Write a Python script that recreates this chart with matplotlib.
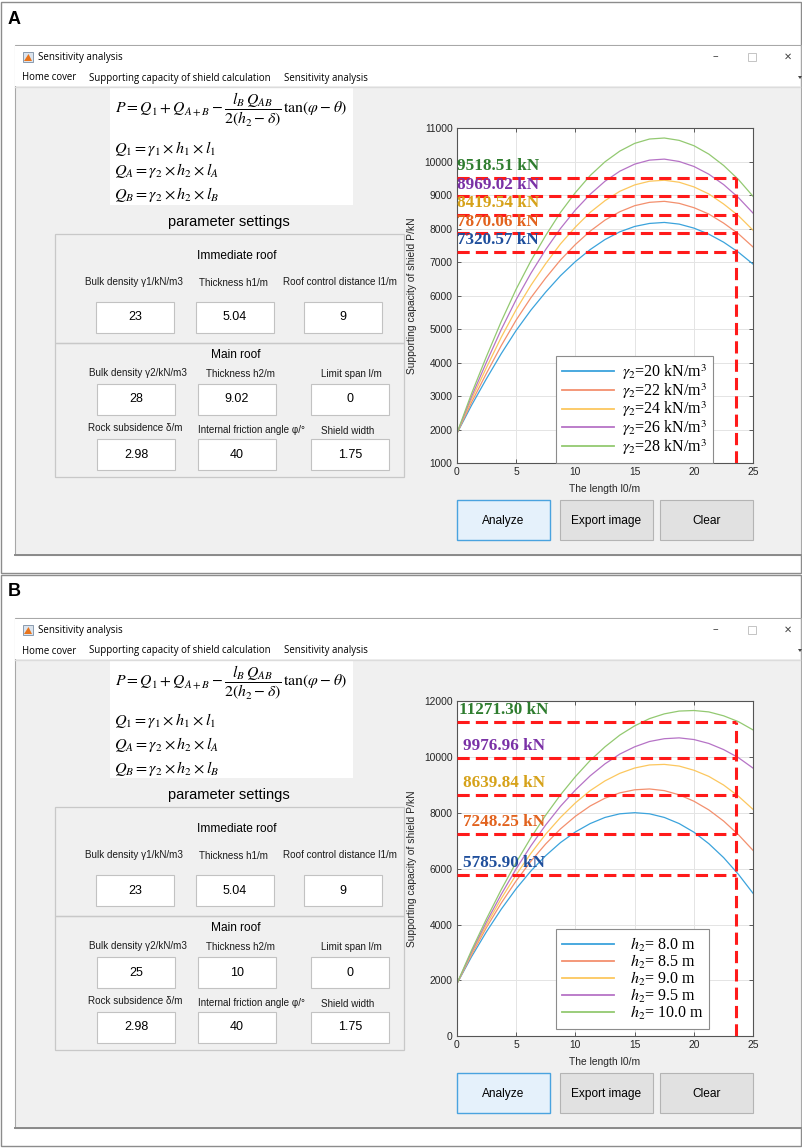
import matplotlib
matplotlib.use('Agg')
import matplotlib.pyplot as plt
from matplotlib.patches import Rectangle, Polygon

plt.rcParams['mathtext.fontset'] = 'stix'

W, H = 803, 1148

# ---- data ----
lengths = [0, 1.25, 2.5, 3.75, 5, 6.25, 7.5, 8.75, 10, 11.25, 12.5,
           13.75, 15, 16.25, 17.5, 18.75, 20, 21.25, 22.5, 23.75, 25]

# A: bulk density of main roof varied
gamma_labels = [r'$\gamma_2$=20 kN/m$^3$', r'$\gamma_2$=22 kN/m$^3$', r'$\gamma_2$=24 kN/m$^3$',
                r'$\gamma_2$=26 kN/m$^3$', r'$\gamma_2$=28 kN/m$^3$']
p_gamma20 = [1880, 2730, 3520, 4270, 4960, 5570, 6110, 6600, 7020, 7380, 7680,
             7910, 8070, 8160, 8190, 8140, 8020, 7840, 7600, 7300, 6940]
p_gamma22 = [1880, 2820, 3680, 4510, 5270, 5940, 6530, 7070, 7530, 7930, 8260,
             8510, 8690, 8790, 8820, 8760, 8630, 8440, 8170, 7850, 7450]
p_gamma24 = [1880, 2910, 3850, 4760, 5580, 6310, 6960, 7550, 8050, 8490, 8840,
             9120, 9310, 9420, 9450, 9390, 9250, 9040, 8740, 8390, 7950]
p_gamma26 = [1880, 2990, 4010, 4990, 5880, 6670, 7380, 8010, 8560, 9030, 9420,
             9720, 9930, 10050, 10080, 10010, 9860, 9630, 9320, 8930, 8460]
p_gamma28 = [1880, 3080, 4180, 5230, 6190, 7040, 7800, 8490, 9080, 9590, 10000,
             10320, 10550, 10680, 10710, 10640, 10480, 10230, 9890, 9470, 8960]
gamma_marks = [7320.57, 7870.06, 8419.54, 8969.02, 9518.51]

# B: thickness of main roof varied
h2_labels = [r'$h_2$= 8.0 m', r'$h_2$= 8.5 m', r'$h_2$= 9.0 m', r'$h_2$= 9.5 m', r'$h_2$= 10.0 m']
p_h80 = [1870, 2850, 3740, 4550, 5280, 5920, 6470, 6940, 7320, 7620, 7840,
         7970, 8010, 7970, 7840, 7620, 7310, 6900, 6400, 5800, 5110]
p_h85 = [1870, 2920, 3890, 4770, 5560, 6270, 6890, 7430, 7880, 8250, 8530,
         8720, 8830, 8860, 8800, 8650, 8420, 8110, 7710, 7220, 6650]
p_h90 = [1870, 2970, 3990, 4930, 5780, 6550, 7240, 7840, 8360, 8800, 9150,
         9420, 9610, 9720, 9740, 9680, 9530, 9310, 9000, 8600, 8120]
p_h95 = [1870, 3020, 4090, 5080, 5990, 6820, 7570, 8240, 8820, 9330, 9760,
         10110, 10370, 10560, 10660, 10690, 10630, 10490, 10270, 9980, 9600]
p_h100 = [1870, 3080, 4200, 5250, 6220, 7110, 7920, 8650, 9300, 9880, 10370,
          10790, 11120, 11380, 11550, 11650, 11670, 11620, 11480, 11270, 10970]
h2_marks = [5785.90, 7248.25, 8639.84, 9976.96, 11271.30]

mark_l0 = 23.5

imm_names = ['Bulk density \u03b31/kN/m3', 'Thickness h1/m', 'Roof control distance l1/m']
imm_values = ['23', '5.04', '9']
main_names = ['Bulk density \u03b32/kN/m3', 'Thickness h2/m', 'Limit span l/m',
              'Rock subsidence \u03b4/m', 'Internal friction angle \u03c6/\u00b0', 'Shield width']
main_values_a = ['28', '9.02', '0', '2.98', '40', '1.75']
main_values_b = ['25', '10', '0', '2.98', '40', '1.75']

line_colors = ['#3ba3dc', '#f3906e', '#fcc75e', '#b673c6', '#93c971']
mark_colors = ['#1f4f9c', '#e2631e', '#d6a21a', '#7a31a6', '#2f7d2f']

UI = 'Liberation Sans'
WIN = 'Open Sans'

fig = plt.figure(figsize=(W / 100, H / 100), dpi=100)
bg = fig.add_axes([0, 0, 1, 1])
bg.set_xlim(0, W)
bg.set_ylim(H, 0)
bg.axis('off')


def box(x0, y0, x1, y1, fc, ec='none', lw=0.8, **kw):
    bg.add_patch(Rectangle((x0, y0), x1 - x0, y1 - y0, facecolor=fc, edgecolor=ec, lw=lw, **kw))


def px_axes(x0, y0, x1, y1):
    return fig.add_axes([x0 / W, 1 - y1 / H, (x1 - x0) / W, (y1 - y0) / H])


def draw_panel(oy, letter, main_values, curves, leg_labels, marks, ylim, yticks, label_x, textpad):
    # frame and window chrome
    box(1.5, oy + 1.5, 801.5, oy + 573, 'white', '#8c8c8c', lw=1.0)
    bg.text(8, oy + 19, letter, fontsize=13, fontweight='bold', family=UI, va='center')
    box(15, oy + 45, 801, oy + 555, '#f0f0f0', '#a8a8a8', lw=0.8)
    box(15.5, oy + 45.5, 800.5, oy + 86, 'white')
    bg.plot([15.5, 800.5], [oy + 86.5, oy + 86.5], color='#dcdcdc', lw=1)
    bg.plot([15, 801], [oy + 555, oy + 555], color='#8a8a8a', lw=1.4)
    bg.add_patch(Polygon([(23, oy + 62), (33, oy + 62), (33, oy + 52), (23, oy + 52)],
                         facecolor='#dbe4ee', edgecolor='#7a8da3', lw=0.6))
    bg.add_patch(Polygon([(24, oy + 61), (28.5, oy + 54), (32, oy + 61)],
                         facecolor='#e8741c', edgecolor='none'))
    bg.text(38, oy + 57.5, 'Sensitivity analysis', fontsize=7.0, family=WIN, va='center')
    bg.text(715, oy + 57, '\u2013', fontsize=8, family=WIN, va='center', ha='center', color='#333333')
    box(748, oy + 53, 756, oy + 61, 'none', '#c4c4c4', lw=0.7)
    bg.text(788, oy + 57, '\u2715', fontsize=7, family='DejaVu Sans', va='center', ha='center',
            color='#444444')
    bg.add_patch(Polygon([(798, oy + 76), (802, oy + 76), (800, oy + 79)], facecolor='#444444'))
    for txt, x in zip(['Home cover', 'Supporting capacity of shield calculation', 'Sensitivity analysis'],
                      [22, 89, 284]):
        bg.text(x, oy + 78, txt, fontsize=6.95, family=WIN, va='center')

    # formula block
    box(110, oy + 87, 353, oy + 205, 'white')
    bg.text(115, oy + 110, r'$P=Q_1+Q_{A+B}-\dfrac{l_B\,Q_{AB}}{2(h_2-\delta)}\,\tan(\varphi-\theta)$',
            fontsize=11.3, va='center')
    bg.text(114, oy + 148, r'$Q_1=\gamma_1\times h_1\times l_1$', fontsize=11.6, va='center')
    bg.text(114, oy + 171, r'$Q_A=\gamma_2\times h_2\times l_A$', fontsize=11.6, va='center')
    bg.text(114, oy + 195, r'$Q_B=\gamma_2\times h_2\times l_B$', fontsize=11.6, va='center')

    # parameter settings
    bg.text(229, oy + 222, 'parameter settings', fontsize=10.5, family=UI, ha='center', va='center')
    box(55.5, oy + 234, 404, oy + 343, 'none', '#c8c8c8', lw=0.9)
    box(55.5, oy + 343, 404, oy + 476.5, 'none', '#c8c8c8', lw=0.9)
    bg.text(237, oy + 256, 'Immediate roof', fontsize=8.6, family=UI, ha='center', va='center')
    bg.text(236, oy + 355, 'Main roof', fontsize=8.6, family=UI, ha='center', va='center')

    def field(name, nx, ny, value, bx0, by0):
        bg.text(nx, oy + ny, name, fontsize=7.1, family=UI, ha='center', va='center', color='#1a1a1a')
        box(bx0, oy + by0, bx0 + 78, oy + by0 + 31, 'white', '#c2c2c2', lw=0.8)
        bg.text(bx0 + 39, oy + by0 + 15.5, value, fontsize=9, family=UI, ha='center', va='center')

    row1 = [(134, 282, 96, 302), (234, 283, 196, 302), (340, 282, 304, 302)]
    for name, value, (nx, ny, bx, by) in zip(imm_names, imm_values, row1):
        field(name, nx, ny, value, bx, by)
    rows23 = [(138, 373, 97, 384), (241, 374, 198, 384), (351, 374, 311, 384),
              (135, 428, 97, 439), (252, 430, 198, 439), (348, 431, 311, 439)]
    for name, value, (nx, ny, bx, by) in zip(main_names, main_values, rows23):
        field(name, nx, ny, value, bx, by)

    # buttons
    box(457, oy + 500, 550, oy + 540, '#e5f1fb', '#4aa3df', lw=1.0)
    box(560, oy + 500, 653, oy + 540, '#e1e1e1', '#b4b4b4', lw=0.8)
    box(660, oy + 500, 753, oy + 540, '#e1e1e1', '#b4b4b4', lw=0.8)
    for txt, x in zip(['Analyze', 'Export image', 'Clear'], [503.5, 606.5, 706.5]):
        bg.text(x, oy + 521, txt, fontsize=8.6, family=UI, ha='center', va='center')

    # chart
    bg.text(412.5, oy + 296, 'Supporting capacity of shield P/kN', rotation=90, fontsize=7.4,
            family=UI, ha='center', va='center', color='#262626')
    bg.text(605, oy + 489, 'The length l0/m', fontsize=7.4, family=UI, ha='center', va='center',
            color='#262626')
    ax = px_axes(456.7, oy + 128.3, 753.3, oy + 463.3)
    for ys, c, lab in zip(curves, line_colors, leg_labels):
        ax.plot(lengths, ys, color=c, lw=0.9, label=lab)
    dash = (0, (4, 2))
    for v, c, xl in zip(marks, mark_colors, label_x):
        ax.plot([0, mark_l0], [v, v], color='#ff1a1a', lw=2.2, ls=dash, zorder=3)
        ax.annotate(f'{v:.2f} kN', (xl, v), xytext=(0, 2.6), textcoords='offset points',
                    color=c, fontsize=12.3, fontweight='bold', family='Liberation Serif',
                    va='bottom', ha='left', zorder=4)
    ax.plot([mark_l0, mark_l0], [ylim[0], max(marks)], color='#ff1a1a', lw=2.2, ls=dash, zorder=3)
    ax.set_xlim(0, 25)
    ax.set_ylim(*ylim)
    ax.set_xticks([0, 5, 10, 15, 20, 25])
    ax.set_yticks(yticks)
    ax.grid(True, color='#e4e4e4', lw=0.7)
    ax.set_axisbelow(True)
    ax.tick_params(direction='in', length=3, width=0.6, top=True, right=True, labelsize=7.4,
                   labelcolor='#262626', color='#444444', pad=3)
    for lab in ax.get_xticklabels() + ax.get_yticklabels():
        lab.set_family(UI)
    for s in ax.spines.values():
        s.set_color('#555555')
        s.set_linewidth(0.8)
    leg = ax.legend(loc='upper left', bbox_to_anchor=(0.335, 0.32), borderaxespad=0,
                    prop={'family': 'Liberation Serif', 'size': 11.5}, handlelength=3.2,
                    handletextpad=textpad, labelspacing=-0.06, borderpad=0.4, fancybox=False,
                    edgecolor='#8c8c8c', framealpha=1)
    leg.get_frame().set_linewidth(0.8)
    for ln in leg.get_lines():
        ln.set_linewidth(1.3)
    return ax


draw_panel(0, 'A', main_values_a,
           [p_gamma20, p_gamma22, p_gamma24, p_gamma26, p_gamma28], gamma_labels,
           gamma_marks, (1000, 11000), range(1000, 11001, 1000), [0.05] * 5, 0.5)
draw_panel(573, 'B', main_values_b,
           [p_h80, p_h85, p_h90, p_h95, p_h100], h2_labels,
           h2_marks, (0, 12000), range(0, 12001, 2000), [0.5, 0.5, 0.5, 0.5, 0.2], 1.0)

fig.savefig('out.png', dpi=100)
